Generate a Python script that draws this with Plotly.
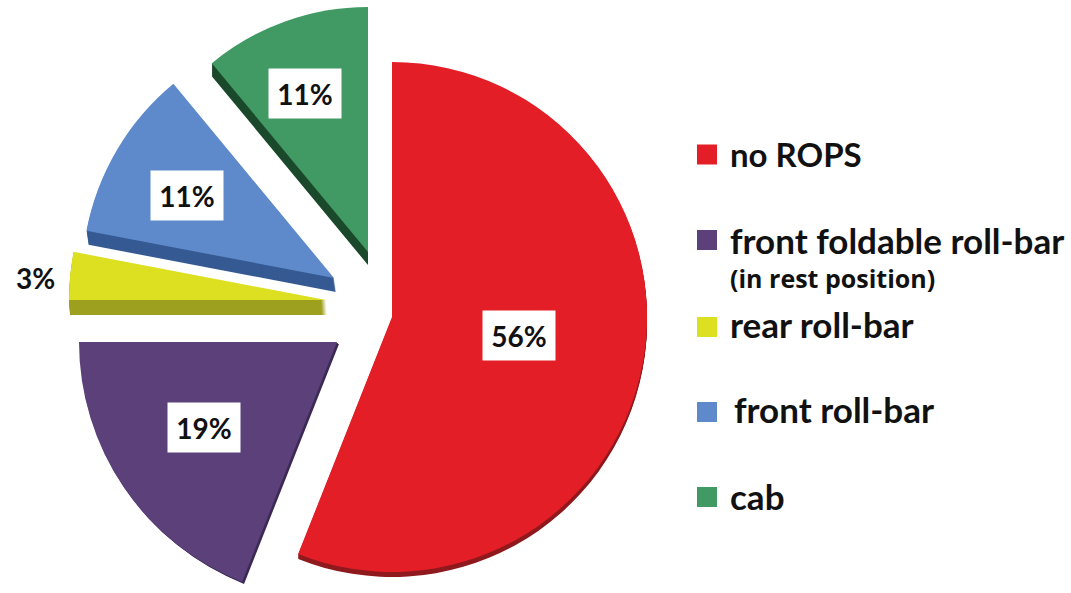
import plotly.graph_objects as go

W, H = 1071, 612

# data
categories = ["no ROPS", "front foldable roll-bar", "rear roll-bar", "front roll-bar", "cab"]
values = [56, 19, 3, 11, 11]
legend_notes = ["", "(in rest position)", "", "", ""]

# styles
top_colors = ["#E41E26", "#5B4079", "#DDE021", "#5E8ACB", "#419A63"]
side_colors = ["#8F1A1E", "#3B2A55", "#9CA01E", "#365A93", "#1B4A2C"]

# layout in pixels (exploded slice centre x, y, radius, extrusion dx, dy)
slice_cx = [392, 337, 326, 334, 368]
slice_cy = [317, 342, 300, 278, 252]
slice_r = [255, 258, 257, 252, 245]
slice_dx = [0, 2, 1, 2, 0]
slice_dy = [5, 2, 15, 14, 13]
label_x = [519, 204, 35, 187, 305]
label_y = [335, 427, 278, 196, 93]
label_boxed = [True, True, False, True, True]
swatch_y = [154.5, 240, 327, 412, 497]
legend_text_x = [728, 728, 728, 732, 728]
legend_text_y = [154, 240, 324, 409, 496]
legend_size = [33, 35, 35, 35, 35]
note_y = 278


def domain(cx, cy, r):
    return dict(x=[(cx - r) / W, (cx + r) / W], y=[1 - (cy + r) / H, 1 - (cy - r) / H])


def slice_trace(v, color, rotation, cx, cy, r, name):
    return go.Pie(
        values=[v, 100 - v], labels=[name, "rest"], sort=False, direction="clockwise",
        rotation=rotation, domain=domain(cx, cy, r),
        marker=dict(colors=[color, "rgba(0,0,0,0)"], line=dict(width=0)),
        textinfo="none", hoverinfo="skip", showlegend=False,
    )


fig = go.Figure()
start = 0.0
for i, v in enumerate(values):
    rot = start * 3.6
    steps = slice_dy[i]
    for s in range(steps, 0, -1):
        fig.add_trace(slice_trace(v, side_colors[i], rot,
                                  slice_cx[i] + slice_dx[i] * s / steps,
                                  slice_cy[i] + slice_dy[i] * s / steps,
                                  slice_r[i], categories[i]))
    fig.add_trace(slice_trace(v, top_colors[i], rot, slice_cx[i], slice_cy[i], slice_r[i], categories[i]))
    start += v

ann = []
for i, v in enumerate(values):
    d = dict(x=label_x[i] / W, y=1 - label_y[i] / H, xref="paper", yref="paper", showarrow=False,
             xanchor="center", yanchor="middle",
             text=f"<b>{v}%</b>", font=dict(family="Lato", size=28, color="#111111"))
    if label_boxed[i]:
        d.update(bgcolor="#FFFFFF", width=70, height=47, align="center", valign="middle")
    ann.append(d)

shapes = []
for i, name in enumerate(categories):
    shapes.append(dict(type="rect", xref="paper", yref="paper",
                       x0=697 / W, x1=717 / W,
                       y0=1 - (swatch_y[i] + 10) / H, y1=1 - (swatch_y[i] - 10) / H,
                       fillcolor=top_colors[i], line=dict(width=0)))
    ann.append(dict(x=legend_text_x[i] / W, y=1 - legend_text_y[i] / H, xref="paper", yref="paper",
                    xanchor="left", yanchor="middle", showarrow=False, text=f"<b>{name}</b>",
                    font=dict(family="Lato", size=legend_size[i], color="#111111")))
ann.append(dict(x=728 / W, y=1 - note_y / H, xref="paper", yref="paper", xanchor="left", yanchor="middle",
                showarrow=False, text=f"<b>{legend_notes[1]}</b>",
                font=dict(family="Open Sans", size=25, color="#111111")))

fig.update_layout(width=W, height=H, margin=dict(l=0, r=0, t=0, b=0), paper_bgcolor="#FFFFFF",
                  annotations=ann, shapes=shapes, showlegend=False)
fig.write_html("out.html", config=dict(displayModeBar=False),
               post_script="document.body.style.margin='0';document.body.style.overflow='hidden';document.documentElement.style.overflow='hidden';")
